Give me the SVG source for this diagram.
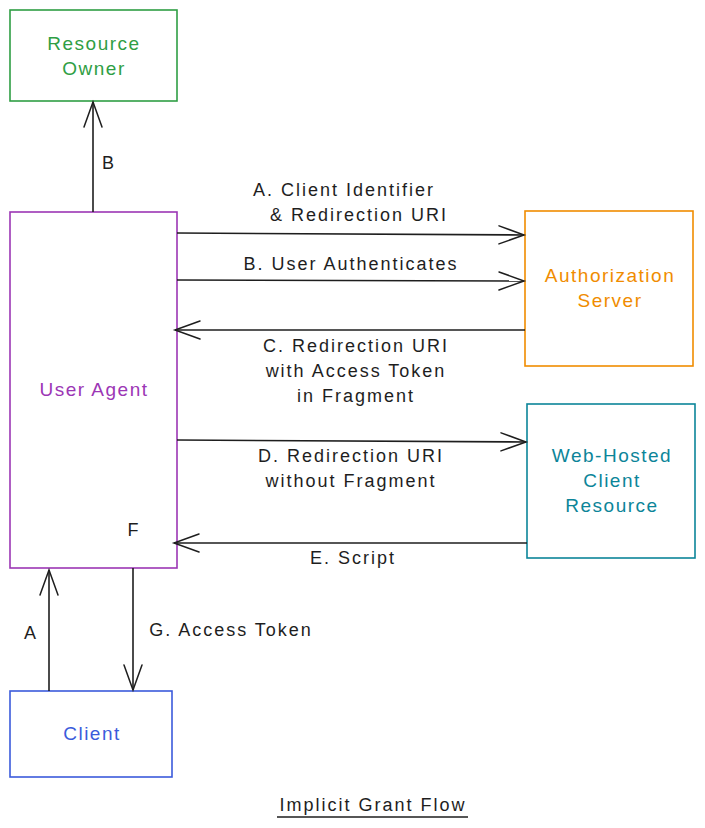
<svg xmlns="http://www.w3.org/2000/svg" width="705" height="828" viewBox="0 0 705 828">
<defs>
<marker id="ah" markerWidth="30" markerHeight="20" viewBox="-26 -10 30 20" refX="0" refY="0" orient="auto" markerUnits="userSpaceOnUse">
<path d="M-25,-9 L0,0 L-25,9" fill="none" stroke="#1e1e1e" stroke-width="1.5" stroke-linecap="round"/>
</marker>
</defs>
<style>
.box{fill:#fff;stroke-width:1.6}
.t{font-family:"Comic Sans MS","Liberation Sans",sans-serif;font-size:19px;text-anchor:middle;letter-spacing:1.5px}
.l{font-family:"Comic Sans MS","Liberation Sans",sans-serif;font-size:18px;text-anchor:middle;fill:#1e1e1e;letter-spacing:2px}
.c{stroke:#1e1e1e;stroke-width:1.6;fill:none;marker-end:url(#ah)}
</style>
<rect width="705" height="828" fill="#fff"/>
<g id="resource-owner">
<rect class="box" x="10" y="10" width="167" height="91" stroke="#2f9e44"/>
<text class="t" fill="#2f9e44" x="94" y="50">Resource</text>
<text class="t" fill="#2f9e44" x="94" y="75">Owner</text>
</g>
<g id="user-agent">
<rect class="box" x="10" y="212" width="167" height="356" stroke="#9c36b5"/>
<text class="t" fill="#9c36b5" x="94" y="396">User Agent</text>
</g>
<g id="authorization-server">
<rect class="box" x="525" y="211" width="168" height="155" stroke="#f08c00"/>
<text class="t" fill="#f08c00" x="610" y="282">Authorization</text>
<text class="t" fill="#f08c00" x="610" y="307">Server</text>
</g>
<g id="web-hosted-client-resource">
<rect class="box" x="527" y="404" width="168" height="154" stroke="#0c8599"/>
<text class="t" fill="#0c8599" x="612" y="462">Web-Hosted</text>
<text class="t" fill="#0c8599" x="612" y="487">Client</text>
<text class="t" fill="#0c8599" x="612" y="512">Resource</text>
</g>
<g id="client">
<rect class="box" x="10" y="691" width="162" height="86" stroke="#3b5bdb"/>
<text class="t" fill="#3b5bdb" x="92" y="740">Client</text>
</g>
<g id="connectors">
<line class="c" x1="93" y1="212" x2="93" y2="102"/>
<line class="c" x1="177" y1="233" x2="524" y2="235"/>
<line class="c" x1="177" y1="280" x2="524" y2="281"/>
<line class="c" x1="525" y1="330" x2="175" y2="330"/>
<line class="c" x1="177" y1="440" x2="526" y2="442"/>
<line class="c" x1="527" y1="543" x2="174" y2="543"/>
<line class="c" x1="49" y1="691" x2="49" y2="570"/>
<line class="c" x1="133" y1="568" x2="133" y2="690"/>
<text class="l" x="109" y="169">B</text>
<text class="l" x="344" y="196">A. Client Identifier</text>
<text class="l" x="359" y="221">&amp; Redirection URI</text>
<text class="l" x="351" y="270">B. User Authenticates</text>
<text class="l" x="356" y="352">C. Redirection URI</text>
<text class="l" x="356" y="377">with Access Token</text>
<text class="l" x="356" y="402">in Fragment</text>
<text class="l" x="351" y="462">D. Redirection URI</text>
<text class="l" x="351" y="487">without Fragment</text>
<text class="l" x="353" y="564">E. Script</text>
<text class="l" x="134" y="536">F</text>
<text class="l" x="31" y="639">A</text>
<text class="l" x="231" y="636">G. Access Token</text>
</g>
<g id="title">
<text class="l" x="373" y="811">Implicit Grant Flow</text>
<line x1="277" y1="817" x2="468" y2="817" stroke="#1e1e1e" stroke-width="1.6"/>
</g>
</svg>
